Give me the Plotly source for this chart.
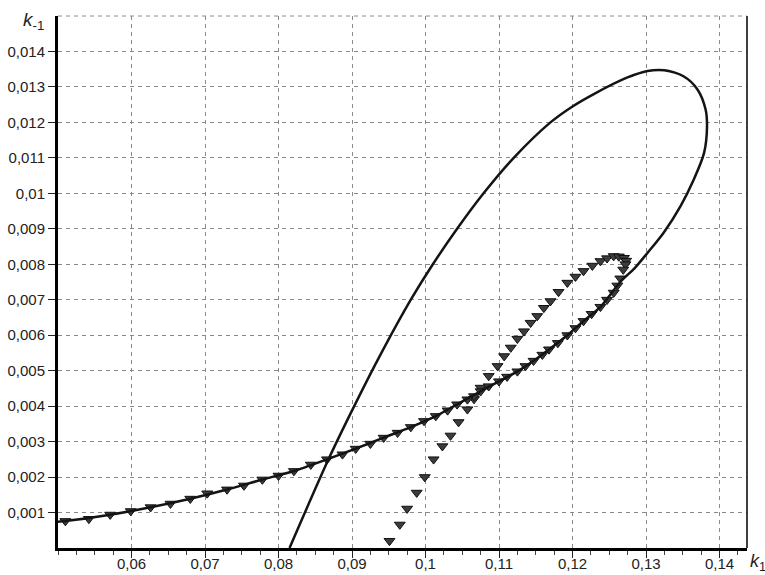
import plotly.graph_objects as go

# Solid curve (k1, k-1)
curve_k1 = [0.0815, 0.0868, 0.0903, 0.0940, 0.0980, 0.1010, 0.1043, 0.1079, 0.1120, 0.1170,
            0.1200, 0.1229, 0.1274, 0.1302, 0.1325, 0.1351, 0.1370, 0.1381, 0.1383,
            0.1379, 0.1365, 0.1347, 0.1324, 0.1302, 0.1285, 0.1265, 0.1238, 0.1215, 0.1193,
            0.1168, 0.1147, 0.1125, 0.1100, 0.1075, 0.1043, 0.1014, 0.0980, 0.0943, 0.0905,
            0.0866, 0.0821, 0.0778, 0.0730, 0.0680, 0.0626, 0.0571, 0.0510, 0.0500]
curve_km1 = [0.0000, 0.0025, 0.0040, 0.0055, 0.0070, 0.0080, 0.0090, 0.0100, 0.0110, 0.0120,
             0.01245, 0.0128, 0.01326, 0.01345, 0.01347, 0.0133, 0.01293, 0.01237, 0.01189,
             0.01114, 0.01039, 0.00964, 0.00889, 0.00832, 0.0079, 0.0075, 0.0068, 0.0064, 0.0060,
             0.0056, 0.00528, 0.00498, 0.0047, 0.00442, 0.00405, 0.00372, 0.00341, 0.00311, 0.0028,
             0.0025, 0.00217, 0.00193, 0.00165, 0.00139, 0.00115, 0.00094, 0.00076, 0.00074]

# Triangle series
tri_k1 = [0.0951, 0.0965, 0.0975, 0.0988, 0.0999, 0.1011, 0.1023, 0.1034, 0.1045, 0.1057,
          0.1066, 0.1075, 0.1086, 0.1098, 0.1107, 0.1116, 0.1125, 0.1134, 0.1143, 0.1152,
          0.1161, 0.1170, 0.1181, 0.1193, 0.1204, 0.1215, 0.1227, 0.1238, 0.1247, 0.1256,
          0.1263, 0.1270, 0.1273, 0.1272, 0.1269, 0.1265, 0.1261, 0.1256, 0.1247, 0.1238,
          0.1226, 0.1215, 0.1204, 0.1193, 0.1180, 0.1168, 0.1159, 0.1147, 0.1136, 0.1125,
          0.1111, 0.1100, 0.1086, 0.1075, 0.1066, 0.1057, 0.1043, 0.1030, 0.1014, 0.0998,
          0.0980, 0.0962, 0.0943, 0.0925, 0.0905, 0.0887, 0.0866, 0.0844, 0.0821, 0.0800,
          0.0778, 0.0753, 0.0730, 0.0703, 0.0680, 0.0653, 0.0626, 0.0599, 0.0571, 0.0542,
          0.0510]
tri_km1 = [0.0002, 0.00066, 0.00111, 0.00156, 0.0020, 0.0025, 0.00287, 0.00317, 0.00355, 0.00391,
           0.0042, 0.00452, 0.00485, 0.00513, 0.00541, 0.00565, 0.0059, 0.00611, 0.00635, 0.00654,
           0.00677, 0.00696, 0.00722, 0.00748, 0.00765, 0.00781, 0.00796, 0.00809, 0.00817, 0.00823,
           0.00822, 0.00818, 0.0081, 0.0080, 0.00785, 0.0076, 0.0074, 0.0072, 0.0070, 0.0068,
           0.0066, 0.0064, 0.0062, 0.0060, 0.00578, 0.0056, 0.00545, 0.00528, 0.00513, 0.00498,
           0.00483, 0.0047, 0.00456, 0.00442, 0.00428, 0.00419, 0.00405, 0.00388, 0.00372, 0.00358,
           0.00341, 0.00325, 0.00311, 0.00294, 0.0028, 0.00264, 0.0025, 0.00235, 0.00217, 0.00204,
           0.00193, 0.00176, 0.00165, 0.00154, 0.00139, 0.00125, 0.00115, 0.00104, 0.00094, 0.00082,
           0.00076]

x_tickvals = [0.06, 0.07, 0.08, 0.09, 0.10, 0.11, 0.12, 0.13, 0.14]
x_ticktext = ["0,06", "0,07", "0,08", "0,09", "0,1", "0,11", "0,12", "0,13", "0,14"]
y_tickvals = [0.001, 0.002, 0.003, 0.004, 0.005, 0.006, 0.007, 0.008, 0.009, 0.010,
              0.011, 0.012, 0.013, 0.014]
y_ticktext = ["0,001", "0,002", "0,003", "0,004", "0,005", "0,006", "0,007", "0,008", "0,009",
              "0,01", "0,011", "0,012", "0,013", "0,014"]

fig = go.Figure()
fig.add_trace(go.Scatter(
    x=tri_k1, y=tri_km1, mode="markers",
    marker=dict(symbol="triangle-down", size=9.5, color="#3c3c3c",
                line=dict(color="#111111", width=1)),
    showlegend=False, hoverinfo="skip"))
fig.add_trace(go.Scatter(
    x=curve_k1, y=curve_km1, mode="lines",
    line=dict(color="#141414", width=2.5, shape="spline", smoothing=0.8),
    showlegend=False, hoverinfo="skip"))

grid = dict(showgrid=True, gridcolor="#8a8a8a", griddash="4px,4px", gridwidth=1)
tfont = dict(family="Liberation Sans, Arial", size=15, color="#222")
fig.update_xaxes(range=[0.05, 0.14374], tickvals=x_tickvals, ticktext=x_ticktext,
                 ticks="outside", ticklen=7, tickcolor="#222", tickwidth=1,
                 showline=True, linecolor="black", linewidth=3, zeroline=False,
                 automargin=False, ticklabelstandoff=-7,
                 minor=dict(dtick=0.0025, ticks="outside", ticklen=4, tickcolor="#444", showgrid=False),
                 tickfont=tfont, **grid)
fig.update_yaxes(range=[0, 0.015], tickvals=y_tickvals, ticktext=y_ticktext,
                 ticks="outside", ticklen=7, tickcolor="#222", tickwidth=1,
                 showline=True, linecolor="black", linewidth=3, zeroline=False,
                 automargin=False,
                 tickfont=tfont, **grid)

# top dashed grid line (0.015) and right frame line
fig.add_shape(type="line", xref="paper", yref="paper", x0=0, x1=1, y0=1, y1=1,
              line=dict(color="#8a8a8a", width=1, dash="4px,4px"))
fig.add_shape(type="line", xref="paper", yref="paper", x0=1, x1=1, y0=0, y1=1,
              line=dict(color="black", width=1.5))

fig.add_annotation(text="<i>k</i><sub>-1</sub>", xref="paper", yref="paper",
                   x=-0.054, y=0.99, xanchor="left", yanchor="middle", showarrow=False,
                   font=dict(family="Liberation Sans, Arial", size=19, color="#222"))
fig.add_annotation(text="<i>k</i><sub>1</sub>", xref="paper", yref="paper",
                   x=1.001, y=-0.028, xanchor="left", yanchor="middle", showarrow=False,
                   font=dict(family="Liberation Sans, Arial", size=18, color="#222"))

fig.update_layout(width=765, height=575, margin=dict(l=58, r=18, t=16, b=27),
                  plot_bgcolor="white", paper_bgcolor="white")
fig.write_html("out.html", config={"displayModeBar": False},
               post_script="document.body.style.margin='0';")
